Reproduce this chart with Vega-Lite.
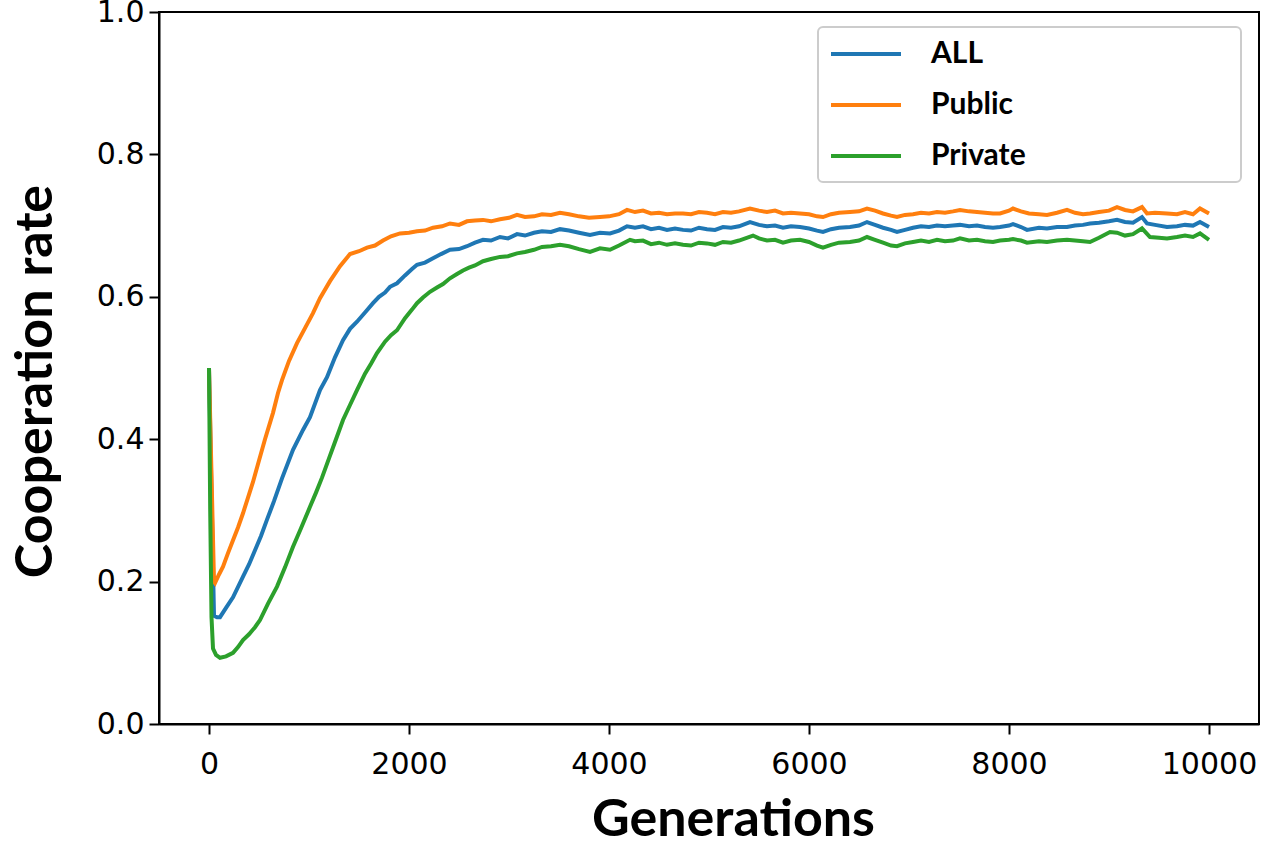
{
"$schema":"https://vega.github.io/schema/vega-lite/v6.json",
"width":1100,"height":712,
"autosize":"none",
"padding":{"left":159,"top":12,"right":28,"bottom":123},
"background":"white",
"datasets":{"pts":[
{"s":"ALL","g":0,"v":0.5},{"s":"ALL","g":50,"v":0.152},{"s":"ALL","g":80,"v":0.150},{"s":"ALL","g":110,"v":0.150},{"s":"ALL","g":170,"v":0.163},{"s":"ALL","g":240,"v":0.178},{"s":"ALL","g":340,"v":0.207},{"s":"ALL","g":400,"v":0.224},{"s":"ALL","g":460,"v":0.244},{"s":"ALL","g":520,"v":0.264},{"s":"ALL","g":580,"v":0.287},{"s":"ALL","g":650,"v":0.313},{"s":"ALL","g":730,"v":0.345},{"s":"ALL","g":840,"v":0.385},{"s":"ALL","g":940,"v":0.413},{"s":"ALL","g":1010,"v":0.431},{"s":"ALL","g":1110,"v":0.469},{"s":"ALL","g":1180,"v":0.487},{"s":"ALL","g":1260,"v":0.515},{"s":"ALL","g":1340,"v":0.539},{"s":"ALL","g":1410,"v":0.555},{"s":"ALL","g":1480,"v":0.565},{"s":"ALL","g":1560,"v":0.578},{"s":"ALL","g":1640,"v":0.591},{"s":"ALL","g":1700,"v":0.600},{"s":"ALL","g":1760,"v":0.606},{"s":"ALL","g":1810,"v":0.614},{"s":"ALL","g":1880,"v":0.619},{"s":"ALL","g":1960,"v":0.630},{"s":"ALL","g":2030,"v":0.639},{"s":"ALL","g":2080,"v":0.645},{"s":"ALL","g":2160,"v":0.648},{"s":"ALL","g":2240,"v":0.654},{"s":"ALL","g":2320,"v":0.660},{"s":"ALL","g":2410,"v":0.666},{"s":"ALL","g":2500,"v":0.667},{"s":"ALL","g":2580,"v":0.671},{"s":"ALL","g":2660,"v":0.676},{"s":"ALL","g":2740,"v":0.680},{"s":"ALL","g":2820,"v":0.679},{"s":"ALL","g":2910,"v":0.684},{"s":"ALL","g":2990,"v":0.682},{"s":"ALL","g":3080,"v":0.688},{"s":"ALL","g":3160,"v":0.686},{"s":"ALL","g":3250,"v":0.690},{"s":"ALL","g":3330,"v":0.692},{"s":"ALL","g":3420,"v":0.691},{"s":"ALL","g":3510,"v":0.695},{"s":"ALL","g":3600,"v":0.693},{"s":"ALL","g":3700,"v":0.690},{"s":"ALL","g":3810,"v":0.687},{"s":"ALL","g":3910,"v":0.690},{"s":"ALL","g":4010,"v":0.689},{"s":"ALL","g":4100,"v":0.693},{"s":"ALL","g":4180,"v":0.699},{"s":"ALL","g":4260,"v":0.697},{"s":"ALL","g":4340,"v":0.699},{"s":"ALL","g":4420,"v":0.695},{"s":"ALL","g":4500,"v":0.697},{"s":"ALL","g":4580,"v":0.694},{"s":"ALL","g":4660,"v":0.696},{"s":"ALL","g":4740,"v":0.694},{"s":"ALL","g":4820,"v":0.693},{"s":"ALL","g":4900,"v":0.697},{"s":"ALL","g":4980,"v":0.695},{"s":"ALL","g":5060,"v":0.694},{"s":"ALL","g":5140,"v":0.698},{"s":"ALL","g":5220,"v":0.697},{"s":"ALL","g":5300,"v":0.699},{"s":"ALL","g":5410,"v":0.705},{"s":"ALL","g":5500,"v":0.701},{"s":"ALL","g":5580,"v":0.699},{"s":"ALL","g":5660,"v":0.700},{"s":"ALL","g":5740,"v":0.697},{"s":"ALL","g":5820,"v":0.699},{"s":"ALL","g":5910,"v":0.698},{"s":"ALL","g":6000,"v":0.696},{"s":"ALL","g":6080,"v":0.693},{"s":"ALL","g":6140,"v":0.691},{"s":"ALL","g":6220,"v":0.695},{"s":"ALL","g":6300,"v":0.697},{"s":"ALL","g":6410,"v":0.698},{"s":"ALL","g":6500,"v":0.700},{"s":"ALL","g":6580,"v":0.705},{"s":"ALL","g":6660,"v":0.701},{"s":"ALL","g":6740,"v":0.697},{"s":"ALL","g":6820,"v":0.694},{"s":"ALL","g":6880,"v":0.691},{"s":"ALL","g":6960,"v":0.694},{"s":"ALL","g":7040,"v":0.697},{"s":"ALL","g":7120,"v":0.699},{"s":"ALL","g":7200,"v":0.698},{"s":"ALL","g":7280,"v":0.700},{"s":"ALL","g":7360,"v":0.699},{"s":"ALL","g":7440,"v":0.700},{"s":"ALL","g":7510,"v":0.701},{"s":"ALL","g":7600,"v":0.699},{"s":"ALL","g":7680,"v":0.700},{"s":"ALL","g":7760,"v":0.698},{"s":"ALL","g":7840,"v":0.697},{"s":"ALL","g":7910,"v":0.698},{"s":"ALL","g":8000,"v":0.700},{"s":"ALL","g":8040,"v":0.702},{"s":"ALL","g":8120,"v":0.698},{"s":"ALL","g":8180,"v":0.694},{"s":"ALL","g":8300,"v":0.697},{"s":"ALL","g":8380,"v":0.696},{"s":"ALL","g":8480,"v":0.698},{"s":"ALL","g":8580,"v":0.698},{"s":"ALL","g":8660,"v":0.700},{"s":"ALL","g":8740,"v":0.701},{"s":"ALL","g":8810,"v":0.703},{"s":"ALL","g":8900,"v":0.704},{"s":"ALL","g":9000,"v":0.706},{"s":"ALL","g":9080,"v":0.708},{"s":"ALL","g":9160,"v":0.705},{"s":"ALL","g":9240,"v":0.704},{"s":"ALL","g":9330,"v":0.712},{"s":"ALL","g":9380,"v":0.703},{"s":"ALL","g":9460,"v":0.701},{"s":"ALL","g":9580,"v":0.698},{"s":"ALL","g":9680,"v":0.699},{"s":"ALL","g":9760,"v":0.701},{"s":"ALL","g":9840,"v":0.700},{"s":"ALL","g":9910,"v":0.705},{"s":"ALL","g":10000,"v":0.698},
{"s":"Public","g":0,"v":0.5},{"s":"Public","g":50,"v":0.200},{"s":"Public","g":60,"v":0.198},{"s":"Public","g":100,"v":0.210},{"s":"Public","g":140,"v":0.221},{"s":"Public","g":190,"v":0.240},{"s":"Public","g":240,"v":0.258},{"s":"Public","g":290,"v":0.276},{"s":"Public","g":340,"v":0.296},{"s":"Public","g":390,"v":0.318},{"s":"Public","g":440,"v":0.340},{"s":"Public","g":500,"v":0.370},{"s":"Public","g":560,"v":0.400},{"s":"Public","g":640,"v":0.437},{"s":"Public","g":690,"v":0.465},{"s":"Public","g":730,"v":0.483},{"s":"Public","g":800,"v":0.510},{"s":"Public","g":880,"v":0.535},{"s":"Public","g":960,"v":0.556},{"s":"Public","g":1040,"v":0.577},{"s":"Public","g":1110,"v":0.598},{"s":"Public","g":1210,"v":0.622},{"s":"Public","g":1310,"v":0.643},{"s":"Public","g":1410,"v":0.660},{"s":"Public","g":1500,"v":0.664},{"s":"Public","g":1580,"v":0.669},{"s":"Public","g":1660,"v":0.672},{"s":"Public","g":1740,"v":0.679},{"s":"Public","g":1820,"v":0.685},{"s":"Public","g":1910,"v":0.689},{"s":"Public","g":2000,"v":0.690},{"s":"Public","g":2080,"v":0.692},{"s":"Public","g":2160,"v":0.693},{"s":"Public","g":2240,"v":0.697},{"s":"Public","g":2330,"v":0.699},{"s":"Public","g":2410,"v":0.703},{"s":"Public","g":2500,"v":0.701},{"s":"Public","g":2580,"v":0.706},{"s":"Public","g":2660,"v":0.707},{"s":"Public","g":2740,"v":0.708},{"s":"Public","g":2820,"v":0.706},{"s":"Public","g":2910,"v":0.709},{"s":"Public","g":3000,"v":0.711},{"s":"Public","g":3080,"v":0.715},{"s":"Public","g":3160,"v":0.712},{"s":"Public","g":3250,"v":0.713},{"s":"Public","g":3330,"v":0.716},{"s":"Public","g":3420,"v":0.715},{"s":"Public","g":3510,"v":0.718},{"s":"Public","g":3600,"v":0.716},{"s":"Public","g":3700,"v":0.713},{"s":"Public","g":3800,"v":0.711},{"s":"Public","g":3910,"v":0.712},{"s":"Public","g":4000,"v":0.713},{"s":"Public","g":4100,"v":0.716},{"s":"Public","g":4180,"v":0.722},{"s":"Public","g":4260,"v":0.719},{"s":"Public","g":4340,"v":0.721},{"s":"Public","g":4420,"v":0.717},{"s":"Public","g":4500,"v":0.718},{"s":"Public","g":4580,"v":0.716},{"s":"Public","g":4660,"v":0.717},{"s":"Public","g":4740,"v":0.717},{"s":"Public","g":4820,"v":0.716},{"s":"Public","g":4900,"v":0.719},{"s":"Public","g":4980,"v":0.718},{"s":"Public","g":5060,"v":0.716},{"s":"Public","g":5140,"v":0.719},{"s":"Public","g":5220,"v":0.718},{"s":"Public","g":5300,"v":0.720},{"s":"Public","g":5410,"v":0.724},{"s":"Public","g":5500,"v":0.721},{"s":"Public","g":5580,"v":0.719},{"s":"Public","g":5660,"v":0.721},{"s":"Public","g":5740,"v":0.717},{"s":"Public","g":5820,"v":0.718},{"s":"Public","g":5910,"v":0.717},{"s":"Public","g":6000,"v":0.716},{"s":"Public","g":6080,"v":0.713},{"s":"Public","g":6140,"v":0.712},{"s":"Public","g":6220,"v":0.716},{"s":"Public","g":6300,"v":0.718},{"s":"Public","g":6410,"v":0.719},{"s":"Public","g":6500,"v":0.720},{"s":"Public","g":6580,"v":0.724},{"s":"Public","g":6660,"v":0.721},{"s":"Public","g":6740,"v":0.717},{"s":"Public","g":6820,"v":0.714},{"s":"Public","g":6880,"v":0.712},{"s":"Public","g":6960,"v":0.715},{"s":"Public","g":7040,"v":0.716},{"s":"Public","g":7120,"v":0.718},{"s":"Public","g":7200,"v":0.717},{"s":"Public","g":7280,"v":0.719},{"s":"Public","g":7360,"v":0.718},{"s":"Public","g":7440,"v":0.720},{"s":"Public","g":7510,"v":0.722},{"s":"Public","g":7600,"v":0.720},{"s":"Public","g":7680,"v":0.719},{"s":"Public","g":7760,"v":0.718},{"s":"Public","g":7840,"v":0.717},{"s":"Public","g":7910,"v":0.717},{"s":"Public","g":8000,"v":0.721},{"s":"Public","g":8040,"v":0.724},{"s":"Public","g":8120,"v":0.720},{"s":"Public","g":8200,"v":0.717},{"s":"Public","g":8300,"v":0.716},{"s":"Public","g":8380,"v":0.715},{"s":"Public","g":8480,"v":0.718},{"s":"Public","g":8580,"v":0.722},{"s":"Public","g":8660,"v":0.718},{"s":"Public","g":8740,"v":0.716},{"s":"Public","g":8810,"v":0.717},{"s":"Public","g":8900,"v":0.719},{"s":"Public","g":9000,"v":0.721},{"s":"Public","g":9080,"v":0.726},{"s":"Public","g":9160,"v":0.722},{"s":"Public","g":9240,"v":0.720},{"s":"Public","g":9330,"v":0.726},{"s":"Public","g":9380,"v":0.717},{"s":"Public","g":9460,"v":0.718},{"s":"Public","g":9580,"v":0.717},{"s":"Public","g":9680,"v":0.716},{"s":"Public","g":9760,"v":0.719},{"s":"Public","g":9840,"v":0.716},{"s":"Public","g":9910,"v":0.724},{"s":"Public","g":10000,"v":0.717},
{"s":"Private","g":0,"v":0.5},{"s":"Private","g":12,"v":0.3},{"s":"Private","g":25,"v":0.15},{"s":"Private","g":40,"v":0.106},{"s":"Private","g":70,"v":0.097},{"s":"Private","g":110,"v":0.093},{"s":"Private","g":170,"v":0.095},{"s":"Private","g":240,"v":0.100},{"s":"Private","g":290,"v":0.108},{"s":"Private","g":340,"v":0.118},{"s":"Private","g":400,"v":0.126},{"s":"Private","g":460,"v":0.136},{"s":"Private","g":510,"v":0.146},{"s":"Private","g":590,"v":0.169},{"s":"Private","g":680,"v":0.193},{"s":"Private","g":760,"v":0.220},{"s":"Private","g":840,"v":0.249},{"s":"Private","g":920,"v":0.275},{"s":"Private","g":1010,"v":0.305},{"s":"Private","g":1070,"v":0.325},{"s":"Private","g":1130,"v":0.346},{"s":"Private","g":1200,"v":0.373},{"s":"Private","g":1270,"v":0.400},{"s":"Private","g":1340,"v":0.427},{"s":"Private","g":1410,"v":0.448},{"s":"Private","g":1480,"v":0.469},{"s":"Private","g":1560,"v":0.492},{"s":"Private","g":1620,"v":0.506},{"s":"Private","g":1680,"v":0.521},{"s":"Private","g":1760,"v":0.537},{"s":"Private","g":1820,"v":0.546},{"s":"Private","g":1880,"v":0.553},{"s":"Private","g":1960,"v":0.570},{"s":"Private","g":2030,"v":0.582},{"s":"Private","g":2080,"v":0.591},{"s":"Private","g":2140,"v":0.599},{"s":"Private","g":2210,"v":0.607},{"s":"Private","g":2280,"v":0.613},{"s":"Private","g":2340,"v":0.618},{"s":"Private","g":2410,"v":0.626},{"s":"Private","g":2480,"v":0.632},{"s":"Private","g":2540,"v":0.637},{"s":"Private","g":2600,"v":0.641},{"s":"Private","g":2660,"v":0.644},{"s":"Private","g":2740,"v":0.650},{"s":"Private","g":2820,"v":0.653},{"s":"Private","g":2910,"v":0.656},{"s":"Private","g":2990,"v":0.657},{"s":"Private","g":3080,"v":0.661},{"s":"Private","g":3160,"v":0.663},{"s":"Private","g":3250,"v":0.666},{"s":"Private","g":3330,"v":0.670},{"s":"Private","g":3420,"v":0.671},{"s":"Private","g":3510,"v":0.673},{"s":"Private","g":3600,"v":0.671},{"s":"Private","g":3700,"v":0.667},{"s":"Private","g":3810,"v":0.663},{"s":"Private","g":3910,"v":0.668},{"s":"Private","g":4010,"v":0.666},{"s":"Private","g":4100,"v":0.672},{"s":"Private","g":4210,"v":0.680},{"s":"Private","g":4260,"v":0.678},{"s":"Private","g":4340,"v":0.679},{"s":"Private","g":4420,"v":0.674},{"s":"Private","g":4500,"v":0.676},{"s":"Private","g":4580,"v":0.673},{"s":"Private","g":4660,"v":0.675},{"s":"Private","g":4740,"v":0.673},{"s":"Private","g":4820,"v":0.672},{"s":"Private","g":4900,"v":0.676},{"s":"Private","g":4980,"v":0.675},{"s":"Private","g":5060,"v":0.673},{"s":"Private","g":5140,"v":0.677},{"s":"Private","g":5220,"v":0.676},{"s":"Private","g":5300,"v":0.679},{"s":"Private","g":5440,"v":0.686},{"s":"Private","g":5500,"v":0.682},{"s":"Private","g":5580,"v":0.679},{"s":"Private","g":5660,"v":0.680},{"s":"Private","g":5740,"v":0.676},{"s":"Private","g":5820,"v":0.679},{"s":"Private","g":5910,"v":0.680},{"s":"Private","g":6000,"v":0.677},{"s":"Private","g":6080,"v":0.672},{"s":"Private","g":6140,"v":0.669},{"s":"Private","g":6220,"v":0.673},{"s":"Private","g":6300,"v":0.676},{"s":"Private","g":6410,"v":0.677},{"s":"Private","g":6500,"v":0.679},{"s":"Private","g":6580,"v":0.684},{"s":"Private","g":6660,"v":0.680},{"s":"Private","g":6740,"v":0.676},{"s":"Private","g":6820,"v":0.672},{"s":"Private","g":6880,"v":0.671},{"s":"Private","g":6960,"v":0.675},{"s":"Private","g":7040,"v":0.677},{"s":"Private","g":7120,"v":0.679},{"s":"Private","g":7200,"v":0.677},{"s":"Private","g":7280,"v":0.680},{"s":"Private","g":7360,"v":0.678},{"s":"Private","g":7440,"v":0.679},{"s":"Private","g":7510,"v":0.682},{"s":"Private","g":7600,"v":0.679},{"s":"Private","g":7680,"v":0.680},{"s":"Private","g":7760,"v":0.678},{"s":"Private","g":7840,"v":0.677},{"s":"Private","g":7910,"v":0.679},{"s":"Private","g":8000,"v":0.680},{"s":"Private","g":8040,"v":0.681},{"s":"Private","g":8120,"v":0.679},{"s":"Private","g":8180,"v":0.676},{"s":"Private","g":8300,"v":0.678},{"s":"Private","g":8380,"v":0.677},{"s":"Private","g":8480,"v":0.679},{"s":"Private","g":8580,"v":0.680},{"s":"Private","g":8660,"v":0.679},{"s":"Private","g":8740,"v":0.678},{"s":"Private","g":8810,"v":0.677},{"s":"Private","g":8900,"v":0.683},{"s":"Private","g":9010,"v":0.691},{"s":"Private","g":9080,"v":0.690},{"s":"Private","g":9160,"v":0.686},{"s":"Private","g":9240,"v":0.688},{"s":"Private","g":9330,"v":0.696},{"s":"Private","g":9410,"v":0.684},{"s":"Private","g":9500,"v":0.683},{"s":"Private","g":9580,"v":0.682},{"s":"Private","g":9680,"v":0.684},{"s":"Private","g":9760,"v":0.686},{"s":"Private","g":9840,"v":0.684},{"s":"Private","g":9910,"v":0.689},{"s":"Private","g":10000,"v":0.680}
]},
"data":{"name":"pts"},
"encoding":{
 "x":{"field":"g","type":"quantitative","scale":{"domain":[-500,10500],"nice":false,"zero":false},
  "axis":{"values":[0,2000,4000,6000,8000,10000],"grid":false,"format":"d","labelFont":"DejaVu Sans","labelFontSize":30,"labelColor":"#000","labelPadding":15,"tickColor":"#000","tickWidth":2,"tickSize":10,"domainColor":"#000","domainWidth":2,
   "title":"Generations","titleFont":"Lato","titleFontWeight":"bold","titleFontSize":52,"titleColor":"#000","titleBaseline":"alphabetic","titleAlign":"center","titleX":574,"titleY":111}},
 "y":{"field":"v","type":"quantitative","scale":{"domain":[0,1],"nice":false},
  "axis":{"values":[0,0.2,0.4,0.6,0.8,1.0],"grid":false,"format":".1f","labelFont":"DejaVu Sans","labelFontSize":30,"labelColor":"#000","labelPadding":5,"tickColor":"#000","tickWidth":2,"tickSize":10,"domainColor":"#000","domainWidth":2,
   "title":"Cooperation rate","titleFont":"Lato","titleFontWeight":"bold","titleFontSize":52,"titleColor":"#000","titleBaseline":"alphabetic","titleAlign":"center","titleAngle":-90,"titleX":-108,"titleY":369}},
 "color":{"field":"s","type":"nominal","scale":{"domain":["ALL","Public","Private"],"range":["#1f77b4","#ff7f0e","#2ca02c"]},
  "legend":{"title":null,"orient":"none","legendX":659,"legendY":15,"symbolType":"M-2.5,0L2.5,0","symbolStrokeWidth":4,"symbolSize":784,"symbolOffset":21,"labelFont":"Lato","labelFontWeight":"bold","labelFontSize":30,"labelColor":"#000","labelOffset":49,"labelLimit":0,"rowPadding":20,"padding":11,"strokeColor":"#cccccc","cornerRadius":5,"fillColor":"white",
   "labelExpr":"datum.label + '\u00a0\u00a0\u00a0\u00a0\u00a0\u00a0\u00a0\u00a0\u00a0\u00a0\u00a0\u00a0\u00a0\u00a0\u00a0\u00a0\u00a0\u00a0\u00a0\u00a0\u00a0\u00a0\u00a0\u00a0\u00a0\u00a0\u00a0\u00a0\u200b'"}}
},
"layer":[
 {"transform":[{"filter":"datum.s != 'Private'"}],"mark":{"type":"line","strokeWidth":4}},
 {"transform":[{"filter":"datum.s == 'Private'"}],"mark":{"type":"line","strokeWidth":4}}
],
"config":{"view":{"stroke":"#000","strokeWidth":2},"legend":{"strokeWidth":2}}
}
